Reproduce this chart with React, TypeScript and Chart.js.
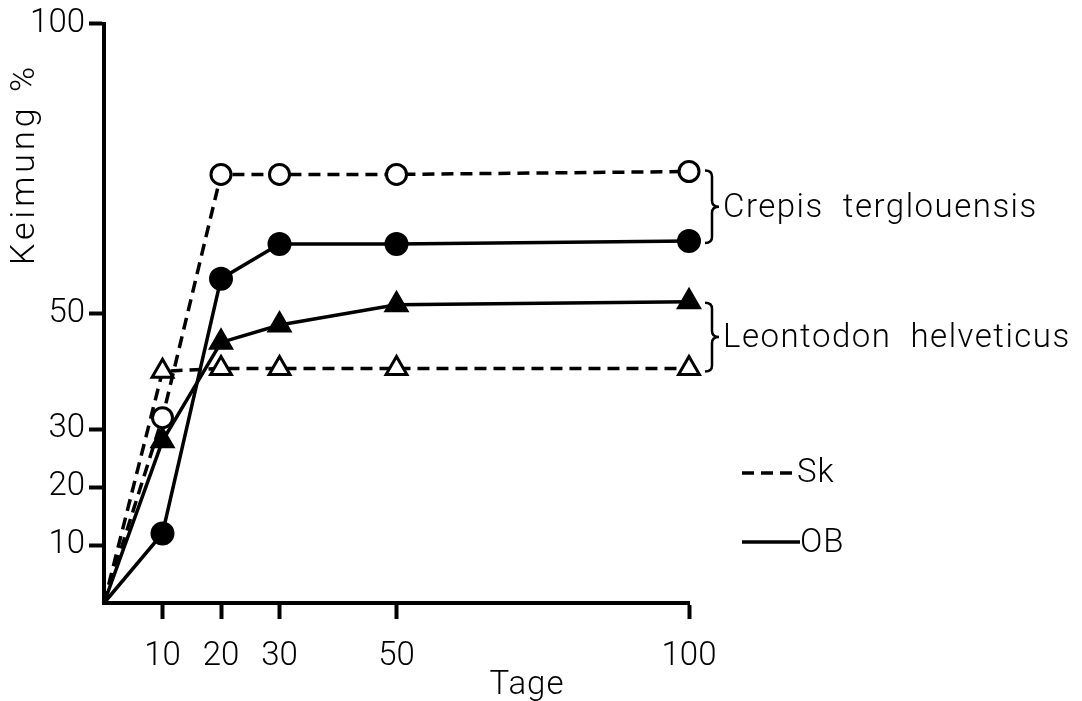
import React, { useEffect, useRef } from "react";
import { Chart, registerables } from "chart.js";

Chart.register(...registerables);

// ---- data ----
const days = [0, 10, 20, 30, 50, 100];
const crepisSk = [0, 32, 74, 74, 74, 74.5];
const crepisOB = [0, 12, 56, 62, 62, 62.5];
const leontodonOB = [0, 28, 45, 48, 51.5, 52];
const leontodonSk = [0, 40, 40.5, 40.5, 40.5, 40.5];
const xTicks = [10, 20, 30, 50, 100];
const yTicks = [10, 20, 30, 50, 100];
const speciesLabels = ["Crepis  terglouensis", "Leontodon  helveticus"];
const legendLabels = ["Sk", "OB"];
const xTitle = "Tage";
const yTitle = "Keimung %";

const FONT = 'Roboto, "DejaVu Sans", sans-serif';
const INK = "#000";
const WEIGHT = 300;

function pts(values: number[]) {
  return days.map((d, i) => ({ x: d, y: values[i] }));
}

function radii(r: number) {
  return days.map((d) => (d === 0 ? 0 : r));
}

function drawBrace(ctx: CanvasRenderingContext2D, x0: number, top: number, bottom: number) {
  const w = 14;
  const r = 6;
  const mid = (top + bottom) / 2;
  const xc = x0 + w / 2;
  ctx.beginPath();
  ctx.moveTo(x0, top);
  ctx.quadraticCurveTo(xc, top, xc, top + r);
  ctx.lineTo(xc, mid - r);
  ctx.quadraticCurveTo(xc, mid, x0 + w, mid);
  ctx.quadraticCurveTo(xc, mid, xc, mid + r);
  ctx.lineTo(xc, bottom - r);
  ctx.quadraticCurveTo(xc, bottom, x0, bottom);
  ctx.stroke();
}

const annotations = {
  id: "annotations",
  afterDraw(chart: any) {
    const ctx: CanvasRenderingContext2D = chart.ctx;
    const xs = chart.scales.x;
    const ys = chart.scales.y;
    const last = days.length - 1;
    ctx.save();
    ctx.fillStyle = INK;
    ctx.strokeStyle = INK;
    ctx.lineWidth = 2.5;
    ctx.font = `${WEIGHT} 33px ${FONT}`;
    (ctx as any).letterSpacing = "1.5px";
    ctx.textBaseline = "middle";

    const bx = xs.getPixelForValue(100) + 16;
    // Crepis brace
    const cTop = ys.getPixelForValue(crepisSk[last]) - 1;
    const cBot = ys.getPixelForValue(crepisOB[last]) + 2;
    drawBrace(ctx, bx, cTop, cBot);
    ctx.textAlign = "left";
    ctx.fillText(speciesLabels[0], bx + 18, (cTop + cBot) / 2 + 2);
    // Leontodon brace
    const lTop = ys.getPixelForValue(leontodonOB[last]) + 1;
    const lBot = ys.getPixelForValue(leontodonSk[last]) + 3;
    drawBrace(ctx, bx, lTop, lBot);
    ctx.fillText(speciesLabels[1], bx + 18, (lTop + lBot) / 2 + 2);

    // legend
    ctx.lineWidth = 3.5;
    ctx.setLineDash([12, 7]);
    ctx.beginPath();
    ctx.moveTo(742, 473);
    ctx.lineTo(795, 473);
    ctx.stroke();
    ctx.setLineDash([]);
    ctx.beginPath();
    ctx.moveTo(742, 542);
    ctx.lineTo(800, 542);
    ctx.stroke();
    (ctx as any).letterSpacing = "1px";
    ctx.fillText(legendLabels[0], 797, 474);
    ctx.fillText(legendLabels[1], 800, 544);

    // axis titles
    ctx.textAlign = "center";
    ctx.fillText(xTitle, 527, 686);
    (ctx as any).letterSpacing = "4px";
    ctx.font = `${WEIGHT} 34px ${FONT}`;
    ctx.translate(25, 164);
    ctx.rotate(-Math.PI / 2);
    ctx.fillText(yTitle, 0, 0);
    ctx.restore();
  },
};

export default function App() {
  const ref = useRef<HTMLCanvasElement>(null);

  useEffect(() => {
    if (!ref.current) return;
    const common = {
      borderColor: INK,
      borderWidth: 3.5,
      pointBorderColor: INK,
      pointBorderWidth: 3,
      tension: 0,
      clip: false as any,
    };
    const chart = new Chart(ref.current, {
      type: "line",
      data: {
        datasets: [
          {
            ...common,
            label: "Crepis terglouensis Sk",
            data: pts(crepisSk),
            borderDash: [12, 7],
            pointStyle: "circle",
            pointRadius: radii(10),
            pointBackgroundColor: "#fff",
          },
          {
            ...common,
            label: "Crepis terglouensis OB",
            data: pts(crepisOB),
            pointStyle: "circle",
            pointRadius: radii(10.5),
            pointBackgroundColor: INK,
          },
          {
            ...common,
            label: "Leontodon helveticus OB",
            data: pts(leontodonOB),
            pointStyle: "triangle",
            pointRadius: radii(12),
            pointBackgroundColor: INK,
          },
          {
            ...common,
            label: "Leontodon helveticus Sk",
            data: pts(leontodonSk),
            borderDash: [12, 7],
            pointStyle: "triangle",
            pointRadius: radii(12),
            pointBackgroundColor: "#fff",
          },
        ],
      },
      options: {
        responsive: false,
        animation: false,
        events: [],
        layout: { padding: { top: 22, right: 393, left: 0, bottom: 0 } },
        plugins: {
          legend: { display: false },
          tooltip: { enabled: false },
          title: { display: false },
        },
        scales: {
          x: {
            type: "linear",
            min: 0,
            max: 100,
            afterFit: (s: any) => {
              s.height = 98;
            },
            afterBuildTicks: (s: any) => {
              s.ticks = xTicks.map((v) => ({ value: v }));
            },
            grid: {
              drawOnChartArea: false,
              drawTicks: true,
              tickLength: 16,
              tickWidth: 4,
              tickColor: INK,
            },
            border: { display: true, color: INK, width: 4 },
            ticks: {
              autoSkip: false,
              maxRotation: 0,
              color: INK,
              padding: 18,
              font: { family: FONT, size: 33, weight: WEIGHT as any },
            },
          },
          y: {
            type: "linear",
            min: 0,
            max: 100,
            afterFit: (s: any) => {
              s.width = 104;
            },
            afterBuildTicks: (s: any) => {
              s.ticks = yTicks.map((v) => ({ value: v }));
            },
            grid: {
              drawOnChartArea: false,
              drawTicks: true,
              tickLength: 15,
              tickWidth: 4,
              tickColor: INK,
            },
            border: { display: true, color: INK, width: 4 },
            ticks: {
              autoSkip: false,
              color: INK,
              padding: 4,
              font: { family: FONT, size: 33, weight: WEIGHT as any },
            },
          },
        },
      },
      plugins: [annotations],
    });
    return () => chart.destroy();
  }, []);

  return (
    <div style={{ position: "absolute", left: 0, top: 0, width: 1082, height: 701, background: "#fff" }}>
      <canvas ref={ref} width={1082} height={701} style={{ display: "block" }} />
    </div>
  );
}
